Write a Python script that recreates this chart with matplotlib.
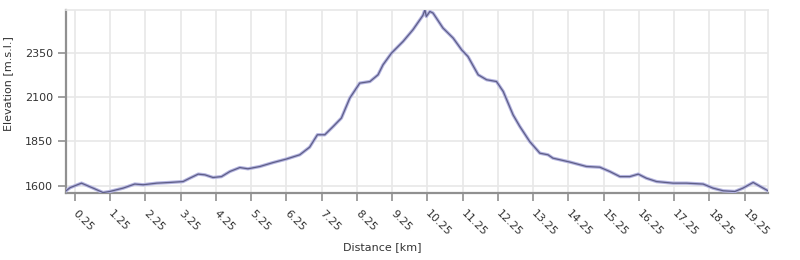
import matplotlib
matplotlib.use("Agg")
import matplotlib.pyplot as plt
import numpy as np

# profile (km, m a.s.l.)
dist = [0.0, 0.12, 0.44, 0.77, 1.05, 1.24, 1.62, 1.95, 2.19, 2.57, 2.94, 3.32,
        3.51, 3.75, 3.94, 4.17, 4.41, 4.65, 4.93, 5.16, 5.50, 5.87, 6.25, 6.63,
        6.91, 7.13, 7.34, 7.58, 7.81, 8.05, 8.33, 8.62, 8.85, 8.99, 9.23, 9.56,
        9.84, 10.12, 10.18, 10.22, 10.32, 10.41, 10.69, 10.98, 11.22, 11.40,
        11.69, 11.93, 12.21, 12.40, 12.68, 12.87, 13.15, 13.44, 13.67, 13.81,
        14.29, 14.76, 15.14, 15.42, 15.71, 15.99, 16.23, 16.46, 16.75, 17.22,
        17.60, 18.07, 18.35, 18.64, 18.97, 19.20, 19.49, 19.72, 19.91]
elev = [1572, 1590, 1615, 1587, 1562, 1568, 1587, 1610, 1606, 1615, 1619, 1624,
        1643, 1666, 1662, 1647, 1652, 1681, 1703, 1696, 1709, 1731, 1751, 1775,
        1818, 1888, 1888, 1935, 1982, 2095, 2179, 2188, 2226, 2282, 2348, 2414,
        2480, 2560, 2592, 2555, 2583, 2574, 2490, 2433, 2367, 2329,
        2226, 2198, 2188, 2132, 2000, 1935, 1850, 1784, 1775, 1756,
        1734, 1709, 1705, 1681, 1652, 1652, 1666, 1643, 1624, 1615,
        1615, 1610, 1587, 1572, 1568, 1587, 1619, 1593, 1572]

xticks = np.arange(0.25, 19.26, 1.0)
yticks = [1600, 1850, 2100, 2350]

plt.rcParams['font.family'] = 'DejaVu Sans'

fig = plt.figure(figsize=(8, 2.6), dpi=100)
ax = fig.add_axes([0.0825, 0.258, 0.8775, 0.704])

ax.plot(dist, elev, color='#b4b4e0', lw=2.4, zorder=3)
ax.plot(dist, elev, color='#5e5e88', lw=0.9, zorder=4)

ax.set_xlim(0, 19.91)
ax.set_ylim(1560, 2592)
ax.set_xticks(xticks)
ax.set_xticklabels([f"{t:.2f}" for t in xticks], rotation=-45,
                   ha='left', va='center', rotation_mode='anchor')
ax.set_yticks(yticks)
ax.grid(True, color='#e8e8e8', lw=1.2, zorder=0)
ax.set_axisbelow(True)

for s in ['top', 'right']:
    ax.spines[s].set_color('#e8e8e8')
    ax.spines[s].set_linewidth(1.2)
for s in ['left', 'bottom']:
    ax.spines[s].set_color('#909090')
    ax.spines[s].set_linewidth(1.6)

ax.tick_params(axis='both', colors='#909090', labelcolor='#333333',
               labelsize=8, length=6, width=1.2, direction='out')
ax.tick_params(axis='x', pad=8)

ax.set_xlabel("Distance [km]", fontsize=8, color='#333333')
ax.xaxis.set_label_coords(0.45, -0.27)
ax.set_ylabel("Elevation [m.s.l.]", fontsize=8, color='#333333')
ax.yaxis.set_label_coords(-0.075, 0.6)

fig.savefig("out.png", dpi=100, facecolor='white')
